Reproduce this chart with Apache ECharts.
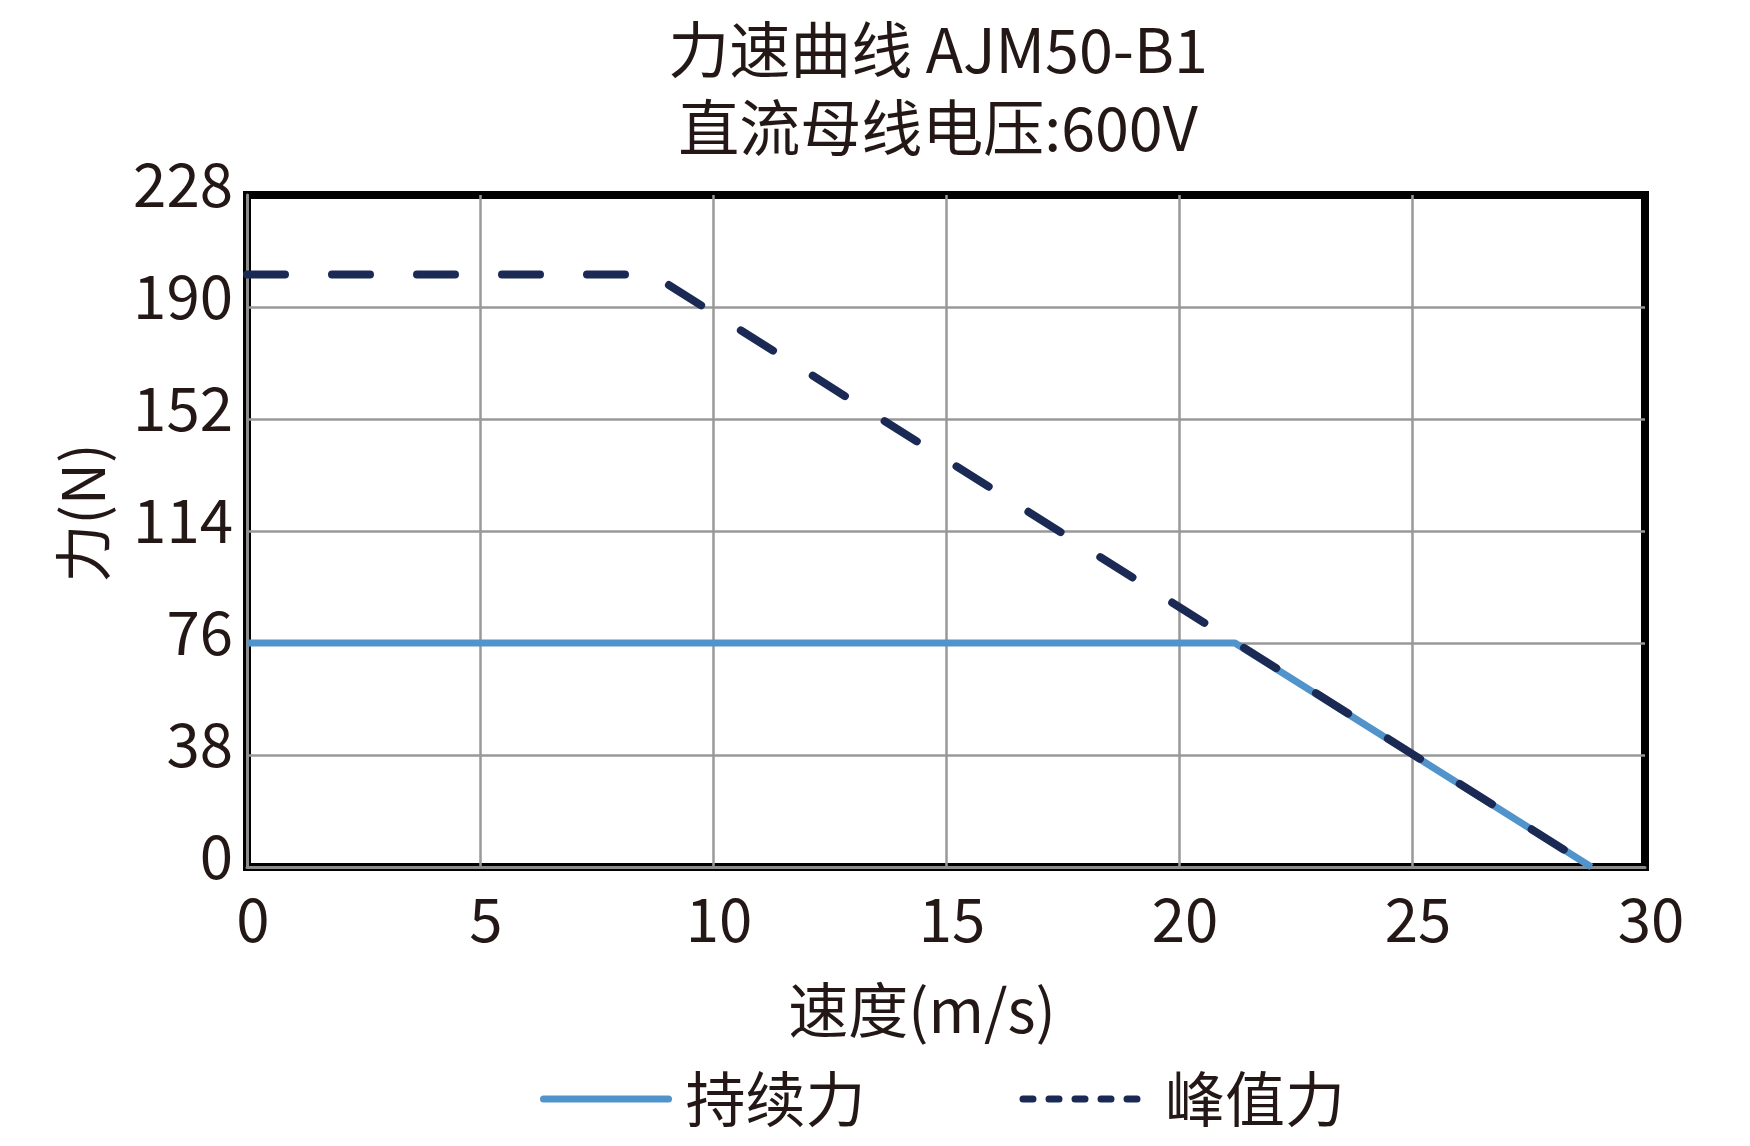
<!DOCTYPE html>
<html>
<head>
<meta charset="utf-8">
<title>力速曲线 AJM50-B1</title>
<script src="https://cdn.jsdelivr.net/npm/echarts@6/dist/echarts.min.js"></script>
<style>
  html, body { margin: 0; padding: 0; background: #fff; }
  #chart { width: 1750px; height: 1146px; }
</style>
</head>
<body>
<div id="chart"></div>
<script>
// 数据
const titleLines = ['力速曲线 AJM50-B1', '直流母线电压:600V'];
const seriesNames = ['持续力', '峰值力'];
const contSpeed = [0, 21.2, 28.85];
const contForce = [76, 76, 0];
const peakSpeed = [0, 8.7, 28.85];
const peakForce = [201, 201, 0];
const xTicks = { min: 0, max: 30, interval: 5 };
const yTicks = { min: 0, max: 228, interval: 38 };

const textColor = '#231815';
const contColor = '#5193cb';
const peakColor = '#1b2a54';
const font = '"Noto Sans CJK SC", "Noto Sans", sans-serif';

function pairs(xs, ys) {
  return xs.map(function (v, i) { return [v, ys[i]]; });
}

var myChart = echarts.init(document.getElementById('chart'), null, { renderer: 'canvas' });

var option = {
  backgroundColor: '#fff',
  animation: false,
  textStyle: { fontFamily: font, color: textColor },
  title: {
    text: titleLines.join('\n'),
    left: 933,
    textAlign: 'center',
    top: 6,
    textStyle: {
      fontFamily: font,
      fontSize: 61,
      fontWeight: 'normal',
      color: textColor,
      lineHeight: 78
    }
  },
  legend: {
    top: 1064,
    left: 535,
    itemWidth: 125,
    itemHeight: 20,
    itemGap: 154,
    itemStyle: { opacity: 0 },
    textStyle: {
      fontFamily: font,
      fontSize: 60,
      color: textColor,
      padding: [0, 0, 0, 12]
    },
    data: [
      { name: seriesNames[0], lineStyle: { color: contColor, width: 7, cap: 'round' } },
      { name: seriesNames[1], lineStyle: { color: peakColor, type: [10, 16], cap: 'round', width: 7 } }
    ]
  },
  grid: {
    left: 247,
    right: 105,
    top: 195,
    bottom: 279,
    show: true,
    borderColor: '#000',
    borderWidth: 8
  },
  xAxis: {
    type: 'value',
    min: xTicks.min,
    max: xTicks.max,
    interval: xTicks.interval,
    name: '速度(m/s)',
    nameLocation: 'middle',
    nameGap: 113,
    nameTextStyle: { fontFamily: font, fontSize: 60, color: textColor, padding: [0, 48, 0, 0] },
    axisLine: { show: true, onZero: false, lineStyle: { color: '#8c8c8c', width: 3 } },
    axisTick: { show: false },
    axisLabel: { fontFamily: font, fontSize: 60, color: textColor, margin: 22, padding: [0, 0, 0, 12] },
    splitLine: { show: true, showMinLine: false, showMaxLine: false, lineStyle: { color: '#999', width: 2.5 } }
  },
  yAxis: {
    type: 'value',
    min: yTicks.min,
    max: yTicks.max,
    interval: yTicks.interval,
    name: '力(N)',
    nameLocation: 'middle',
    nameGap: 135,
    nameTextStyle: { fontFamily: font, fontSize: 58, color: textColor, padding: [0, 0, 0, 36] },
    axisLine: { show: true, onZero: false, lineStyle: { color: '#8c8c8c', width: 3 } },
    axisTick: { show: false },
    axisLabel: {
      margin: 14,
      formatter: '{v|{value}}',
      rich: { v: { fontFamily: font, fontSize: 60, color: textColor, padding: [0, 0, 22, 0] } }
    },
    splitLine: { show: true, showMinLine: false, showMaxLine: false, lineStyle: { color: '#999', width: 2.5 } }
  },
  series: [
    {
      name: seriesNames[0],
      type: 'line',
      data: pairs(contSpeed, contForce),
      symbol: 'none',
      lineStyle: { color: contColor, width: 7 },
      itemStyle: { color: contColor },
      z: 3
    },
    {
      name: seriesNames[1],
      type: 'line',
      data: pairs(peakSpeed, peakForce),
      symbol: 'none',
      lineStyle: { color: peakColor, width: 8, type: [38, 47], cap: 'round' },
      itemStyle: { color: peakColor },
      z: 4
    }
  ]
};

myChart.setOption(option);
window.addEventListener('resize', myChart.resize);
</script>
</body>
</html>
